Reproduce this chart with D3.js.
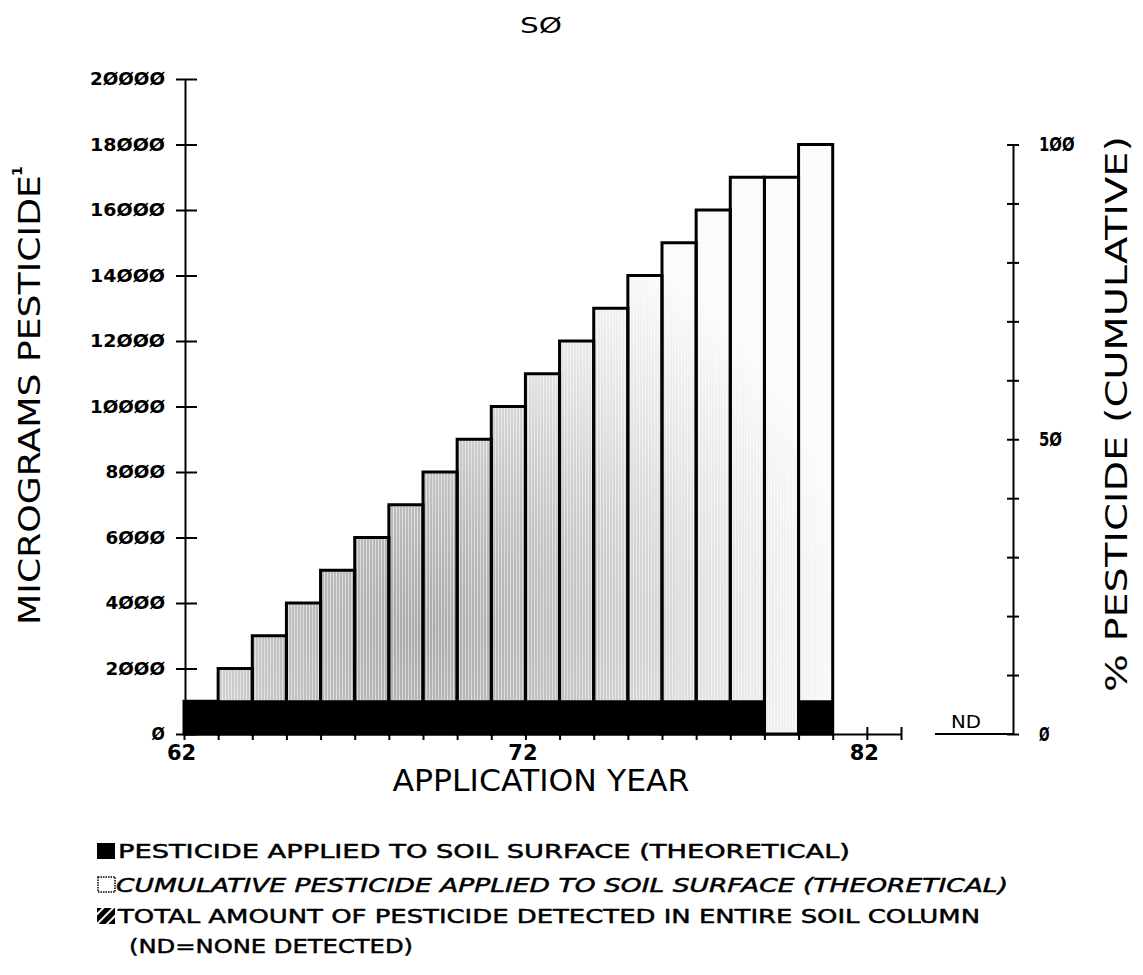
<!DOCTYPE html>
<html><head><meta charset="utf-8">
<script src="https://cdn.jsdelivr.net/npm/d3@7"></script>
<style>
body{margin:0;background:#fff}
svg text{font-family:"DejaVu Sans",sans-serif;fill:#000}
</style>
</head><body>
<svg id="chart" width="1143" height="975"></svg>
<script>
// ---- data ----
const years      = [62,63,64,65,66,67,68,69,70,71,72,73,74,75,76,77,78,79,80];
const applied    = [1000,1000,1000,1000,1000,1000,1000,1000,1000,1000,1000,1000,1000,1000,1000,1000,1000,0,1000];
const cumulative = [1000,2000,3000,4000,5000,6000,7000,8000,9000,10000,11000,12000,13000,14000,15000,16000,17000,17000,18000];
const yTickValues = [0,2000,4000,6000,8000,10000,12000,14000,16000,18000,20000];
const xTickValues = [62,63,64,65,66,67,68,69,70,71,72,73,74,75,76,77,78,79,80,81,82,83];
const xTickLabels = [62,72,82];
const pctTickValues = [0,10,20,30,40,50,60,70,80,90,100];
const pctTickLabels = [0,50,100];
const titleText = "SØ";
const yTitle = "MICROGRAMS PESTICIDE";
const xTitle = "APPLICATION YEAR";
const y2Title = "% PESTICIDE (CUMULATIVE)";
const legendLabels = [
  "PESTICIDE APPLIED TO SOIL SURFACE (THEORETICAL)",
  "CUMULATIVE PESTICIDE APPLIED TO SOIL SURFACE (THEORETICAL)",
  "TOTAL AMOUNT OF PESTICIDE DETECTED IN ENTIRE SOIL COLUMN",
  "(ND=NONE DETECTED)"
];

// ---- setup ----
const svg = d3.select("#chart");
const slashZero = v => String(v).replace(/0/g, "Ø");

const x = d3.scaleLinear().domain([62, 83]).range([184, 901]);
const y = d3.scaleLinear().domain([0, 20000]).range([734, 79]);
const pct = d3.scaleLinear().domain([0, 100]).range([y(0), y(d3.max(cumulative))]);

const defs = svg.append("defs");
const rg = defs.append("radialGradient").attr("id", "shade")
  .attr("gradientUnits", "userSpaceOnUse")
  .attr("cx", 420).attr("cy", 630).attr("r", 430);
[[0, "#a9a9a9"], [0.35, "#c2c2c2"], [0.7, "#e4e4e4"], [1, "#fafafa"]]
  .forEach(([o, c]) => rg.append("stop").attr("offset", o).attr("stop-color", c));
const st = defs.append("pattern").attr("id", "streak")
  .attr("patternUnits", "userSpaceOnUse").attr("width", 3).attr("height", 9);
st.append("rect").attr("x", 0).attr("y", 0).attr("width", 1).attr("height", 9)
  .attr("fill", "#fff").attr("opacity", 0.5);
const hp = defs.append("pattern").attr("id", "hatch")
  .attr("patternUnits", "userSpaceOnUse").attr("width", 7).attr("height", 7)
  .attr("patternTransform", "rotate(45)");
hp.append("rect").attr("width", 7).attr("height", 7).attr("fill", "#000");
hp.append("rect").attr("x", 0).attr("y", 0).attr("width", 2).attr("height", 7).attr("fill", "#fff");

// ---- bars ----
const rows = years.map((yr, i) => ({yr, ap: applied[i], cu: cumulative[i]}));
const gBars = svg.append("g");
gBars.selectAll("rect.cu").data(rows).join("rect").attr("class", "cu")
  .attr("x", d => x(d.yr)).attr("width", d => x(d.yr + 1) - x(d.yr))
  .attr("y", d => y(d.cu)).attr("height", d => y(0) - y(d.cu))
  .attr("fill", "url(#shade)");
gBars.selectAll("rect.st").data(rows).join("rect").attr("class", "st")
  .attr("x", d => x(d.yr)).attr("width", d => x(d.yr + 1) - x(d.yr))
  .attr("y", d => y(d.cu)).attr("height", d => y(0) - y(d.cu))
  .attr("fill", "url(#streak)");
gBars.selectAll("rect.ol").data(rows).join("rect").attr("class", "ol")
  .attr("x", d => x(d.yr)).attr("width", d => x(d.yr + 1) - x(d.yr))
  .attr("y", d => y(d.cu)).attr("height", d => y(0) - y(d.cu))
  .attr("fill", "none").attr("stroke", "#000").attr("stroke-width", 3);
gBars.selectAll("rect.ap").data(rows.filter(d => d.ap > 0)).join("rect").attr("class", "ap")
  .attr("x", d => x(d.yr)).attr("width", d => x(d.yr + 1) - x(d.yr))
  .attr("y", d => y(d.ap)).attr("height", d => y(0) - y(d.ap))
  .attr("fill", "#000").attr("stroke", "#000").attr("stroke-width", 2);

// ---- left axis ----
const gy = svg.append("g").attr("transform", "translate(185,0)")
  .call(d3.axisLeft(y).tickValues(yTickValues).tickSize(0).tickSizeOuter(0)
    .tickPadding(20).tickFormat(slashZero));
gy.select(".domain").attr("stroke-width", 2);
gy.selectAll(".tick line").attr("x1", -9).attr("x2", 12).attr("stroke-width", 2);
gy.selectAll(".tick text")
  .attr("font-size", 18).attr("font-weight", "bold")
  .attr("font-family", "DejaVu Sans")
  .attr("textLength", d => slashZero(d).length * 15.4 - 2)
  .attr("lengthAdjust", "spacingAndGlyphs");

// ---- bottom axis ----
const gx = svg.append("g").attr("transform", `translate(0,${y(0)})`)
  .call(d3.axisBottom(x).tickValues(xTickValues).tickSize(6).tickSizeOuter(0)
    .tickPadding(5).tickFormat(d => xTickLabels.includes(d) ? String(d) : ""));
gx.select(".domain").attr("stroke-width", 2);
gx.selectAll(".tick line").attr("stroke-width", 2)
  .attr("y1", d => (d === 72 || d === 82 || d === 83) ? -7 : 0);
gx.selectAll(".tick text").attr("font-size", 21).attr("font-weight", "bold")
  .attr("font-family", "DejaVu Sans").attr("dx", -3);

// ---- right axis ----
const gr = svg.append("g").attr("transform", "translate(1013,0)")
  .call(d3.axisRight(pct).tickValues(pctTickValues).tickSize(0).tickSizeOuter(0)
    .tickPadding(26).tickFormat(d => pctTickLabels.includes(d) ? slashZero(d) : ""));
gr.select(".domain").attr("stroke-width", 2);
gr.selectAll(".tick line").attr("x1", -6).attr("x2", 6).attr("stroke-width", 2);
gr.selectAll(".tick text")
  .attr("font-size", 19).attr("font-weight", "bold").attr("font-family", "DejaVu Sans")
  .attr("textLength", d => pctTickLabels.includes(d) ? slashZero(d).length * 12.5 - 2 : null)
  .attr("lengthAdjust", "spacingAndGlyphs");
svg.append("line").attr("x1", 935).attr("x2", 1013)
  .attr("y1", pct(0)).attr("y2", pct(0)).attr("stroke", "#000").attr("stroke-width", 2);
svg.append("text").attr("x", 966).attr("y", pct(0) - 6).attr("text-anchor", "middle")
  .attr("font-size", 18).attr("textLength", 30).attr("lengthAdjust", "spacingAndGlyphs")
  .text("ND");

// ---- titles ----
svg.append("text").attr("x", 541).attr("y", 33).attr("text-anchor", "middle")
  .attr("font-size", 21).attr("textLength", 42).attr("lengthAdjust", "spacingAndGlyphs")
  .text(titleText);
svg.append("text").attr("transform", "translate(40,400) rotate(-90)")
  .attr("text-anchor", "middle").attr("font-size", 30)
  .attr("textLength", 450).attr("lengthAdjust", "spacingAndGlyphs").text(yTitle);
svg.append("text").attr("transform", "translate(22,171) rotate(-90)")
  .attr("text-anchor", "middle").attr("font-size", 14).attr("font-weight", "bold").text("1");
svg.append("text").attr("x", 541).attr("y", 791).attr("text-anchor", "middle")
  .attr("font-size", 30).attr("textLength", 297).attr("lengthAdjust", "spacingAndGlyphs")
  .text(xTitle);
svg.append("text").attr("transform", "translate(1127,414) rotate(-90)")
  .attr("text-anchor", "middle").attr("font-size", 30)
  .attr("textLength", 556).attr("lengthAdjust", "spacingAndGlyphs").text(y2Title);

// ---- legend ----
const lg = svg.append("g");
lg.append("rect").attr("x", 97).attr("y", 843).attr("width", 18).attr("height", 16).attr("fill", "#000");
lg.append("rect").attr("x", 98).attr("y", 877).attr("width", 17).attr("height", 15)
  .attr("fill", "#fff").attr("stroke", "#000").attr("stroke-width", 1.5).attr("stroke-dasharray", "1.5,1");
lg.append("rect").attr("x", 97).attr("y", 908).attr("width", 18).attr("height", 16).attr("fill", "url(#hatch)");
const legPos = [[118, 858, 732, "normal"], [116, 892, 892, "italic"], [118, 923, 862, "normal"], [129, 953, 284, "normal"]];
lg.selectAll("text").data(legendLabels).join("text")
  .attr("x", (d, i) => legPos[i][0]).attr("y", (d, i) => legPos[i][1])
  .attr("font-size", 20).attr("font-style", (d, i) => legPos[i][3])
  .attr("stroke", "#000").attr("stroke-width", 0.5)
  .attr("textLength", (d, i) => legPos[i][2]).attr("lengthAdjust", "spacingAndGlyphs")
  .text(d => d);
</script>
</body></html>
